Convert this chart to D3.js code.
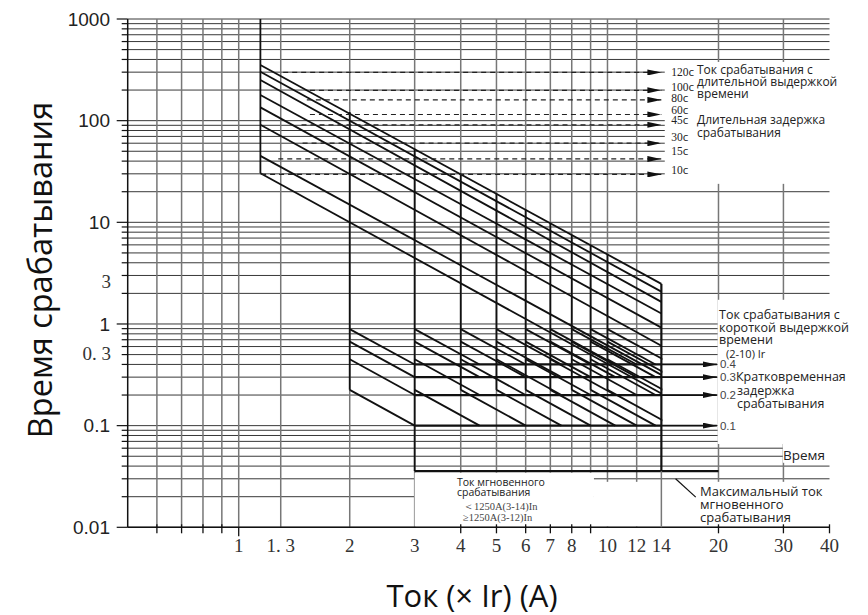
<!DOCTYPE html>
<html>
<head>
<meta charset="utf-8">
<script src="https://cdn.jsdelivr.net/npm/d3@7"></script>
<style>
body { margin: 0; background: #fff; }
svg { display: block; }
</style>
</head>
<body>
<div id="chart"></div>
<script>
// axis labels
var yMajor = [0.01, 0.1, 1, 10, 100, 1000];
var yMajorText = ["0.01", "0.1", "1", "10", "100", "1000"];
var ySerifText = ["3", "0. 3"];
var ySerifAt = [2.6, 0.52];          // where those two labels sit in the drawing
var xGrid = [0.6, 0.7, 0.8, 0.9, 1, 1.3, 2, 3, 4, 5, 6, 7, 8, 9, 10, 12, 20, 30];
var xTicks = [0.6, 0.7, 0.8, 0.9, 4, 5, 6, 7, 8, 9, 20, 30, 40];
var xLabels = [1, 1.3, 2, 3, 4, 5, 6, 7, 8, 10, 12, 14, 20, 30, 40];
var xLabelText = ["1", "1. 3", "2", "3", "4", "5", "6", "7", "8", "10", "12", "14", "20", "30", "40"];

// long time delay band (trip time at start and end current)
var longStartI = 1.145, longEndI = 14;
var longStartT = [353, 303, 251, 179, 135, 91, 45, 30.4];
var longEndT = [2.48, 2.08, 1.65, 1.27, 0.92, 0.61, 0.316, 0.207];

// long delay settings, dashed arrows
var settingText = ["120", "100", "80", "60", "45", "30", "15", "10"];
var dashT = [298, 199, 160, 115, 91, 60, 42, 29.6];
var dashStartI = [1.32, 1.56, 1.53, 1.56, 1.48, 1.49, 1.28, 1.15];
var settingLabelT = [315, 224, 172, 133, 106, 72, 51.6, 34.3];

// short time delay (pickup 2-10 Ir)
var shortPickup = [2, 3, 4, 5, 6, 7, 8, 9, 10];
var shortReach = [3, 4.5, 6, 7.5, 9, 10.5, 12, 13.5, 15];
var pickupTopT = [122, 53, 30, 19.2, 13.3, 9.8, 7.5, 5.9, 4.8];
var shortDelay = [0.4, 0.3, 0.2, 0.1];
var shortDelayText = ["0.4", "0.3", "0.2", "0.1"];
var shortStartT = [0.89, 0.67, 0.45, 0.225];

// instantaneous
var instT = 0.0357;
var instFromI = 3, instToI = 20;

var width = 868, height = 615;

var svg = d3.select("#chart")
  .append("svg")
  .attr("width", width)
  .attr("height", height)
  .style("font-family", "'Open Sans', sans-serif");

var x = d3.scaleLog().domain([0.5, 40]).range([127.7, 829.5]);
var y = d3.scaleLog().domain([0.01, 1000]).range([527.3, 19]);

var defs = svg.append("defs");
defs.append("marker")
  .attr("id", "arr")
  .attr("markerUnits", "userSpaceOnUse")
  .attr("viewBox", "0 0 14 6")
  .attr("refX", 14).attr("refY", 3)
  .attr("markerWidth", 14).attr("markerHeight", 6)
  .attr("orient", "auto")
  .append("path").attr("d", "M0,0L14,3L0,6Z").attr("fill", "#111");
defs.append("clipPath").attr("id", "clip14")
  .append("rect")
  .attr("x", x(0.5)).attr("y", y(1000))
  .attr("width", x(14) - x(0.5) + 1)
  .attr("height", y(0.01) - y(1000));

// grid
var hGrid = y.ticks();
svg.append("g").selectAll("line")
  .data(hGrid).join("line")
  .attr("x1", x(0.5)).attr("x2", x(40))
  .attr("y1", d => y(d)).attr("y2", d => y(d))
  .attr("stroke", "#222").attr("stroke-width", 0.9);

svg.append("g").selectAll("line")
  .data(xGrid).join("line")
  .attr("x1", d => x(d)).attr("x2", d => x(d))
  .attr("y1", y(1000)).attr("y2", y(0.01))
  .attr("stroke", "#777").attr("stroke-width", 1.5);

// blank areas behind the notes
var blanks = [
  {i0: 14.3, i1: 42, t0: 23.9, t1: 378},
  {i0: 19.9, i1: 42, t0: 0.066, t1: 1.73},
  {i0: 29.9, i1: 42, t0: 0.0431, t1: 0.066},
  {i0: 3.0, i1: 9.19, t0: 0.0102, t1: 0.0345},
  {i0: 9.19, i1: 42, t0: 0.0102, t1: 0.028}
];
svg.append("g").selectAll("rect")
  .data(blanks).join("rect")
  .attr("x", d => x(d.i0)).attr("y", d => y(d.t1))
  .attr("width", d => x(d.i1) - x(d.i0))
  .attr("height", d => y(d.t0) - y(d.t1))
  .attr("fill", "#fff");

// axes
var axisG = svg.append("g").attr("stroke", "#111");
axisG.append("line")
  .attr("x1", x(0.5)).attr("x2", x(0.5))
  .attr("y1", y(1000)).attr("y2", y(0.01)).attr("stroke-width", 1.5);
axisG.append("line")
  .attr("x1", x(0.5)).attr("x2", x(40))
  .attr("y1", y(0.01)).attr("y2", y(0.01)).attr("stroke-width", 1.5);
axisG.selectAll(".ym").data(hGrid).join("line")
  .attr("x1", d => x(0.5) - (yMajor.indexOf(d) >= 0 ? 11 : 6)).attr("x2", x(0.5))
  .attr("y1", d => y(d)).attr("y2", d => y(d)).attr("stroke-width", 1.2);
axisG.selectAll(".xt").data(xTicks).join("line")
  .attr("x1", d => x(d)).attr("x2", d => x(d))
  .attr("y1", y(0.01) - 3).attr("y2", y(0.01) + 6).attr("stroke-width", 1.3);
axisG.append("line")
  .attr("x1", x(1)).attr("x2", x(1))
  .attr("y1", y(0.01)).attr("y2", y(0.01) + 9).attr("stroke-width", 1.3);

svg.append("g").selectAll("text")
  .data(yMajor).join("text")
  .attr("x", 110).attr("y", d => y(d)).attr("dy", "0.35em")
  .attr("text-anchor", "end")
  .style("font-family", "'Liberation Sans', Arial, sans-serif")
  .style("font-size", "19px").attr("fill", "#222")
  .text((d, i) => yMajorText[i]);

svg.append("g").selectAll("text")
  .data(ySerifAt).join("text")
  .attr("x", 111).attr("y", d => y(d)).attr("dy", "0.35em")
  .attr("text-anchor", "end")
  .style("font-family", "'Liberation Serif', serif")
  .style("font-size", "19px").attr("fill", "#333")
  .text((d, i) => ySerifText[i]);

svg.append("g").selectAll("text")
  .data(xLabels).join("text")
  .attr("x", d => x(d)).attr("y", 552)
  .attr("text-anchor", "middle")
  .style("font-family", "'Liberation Serif', serif")
  .style("font-size", "19px").attr("fill", "#333")
  .text((d, i) => xLabelText[i]);

// curves
var curves = svg.append("g").attr("stroke", "#111").attr("fill", "none").attr("stroke-width", 1.8);

// long delay
curves.selectAll(".long").data(longStartT).join("line")
  .attr("x1", x(longStartI)).attr("y1", d => y(d))
  .attr("x2", x(longEndI)).attr("y2", (d, i) => y(longEndT[i]));
curves.append("line")
  .attr("x1", x(longStartI)).attr("x2", x(longStartI))
  .attr("y1", y(1000)).attr("y2", y(longStartT[longStartT.length - 1]));

// short delay pickups
curves.selectAll(".pick").data(shortPickup).join("line")
  .attr("x1", d => x(d)).attr("x2", d => x(d))
  .attr("y1", (d, i) => y(pickupTopT[i]))
  .attr("y2", d => y(d === instFromI ? instT : shortStartT[shortStartT.length - 1]));

var shortSegs = [];
shortPickup.forEach(function(k, i) {
  shortDelay.forEach(function(td, j) {
    shortSegs.push({i0: k, t0: shortStartT[j], i1: shortReach[i], t1: td});
  });
});
curves.append("g").attr("clip-path", "url(#clip14)")
  .selectAll("line").data(shortSegs).join("line")
  .attr("x1", d => x(d.i0)).attr("y1", d => y(d.t0))
  .attr("x2", d => x(d.i1)).attr("y2", d => y(d.t1));

curves.selectAll(".sd").data(shortDelay).join("line")
  .attr("x1", x(shortReach[0])).attr("x2", x(longEndI))
  .attr("y1", d => y(d)).attr("y2", d => y(d))
  .attr("stroke-width", 2.2);

// right edge at 14 Ir and instantaneous step
curves.append("line")
  .attr("x1", x(longEndI)).attr("x2", x(longEndI))
  .attr("y1", y(longEndT[0])).attr("y2", y(instT)).attr("stroke-width", 2.2);
curves.append("line")
  .attr("x1", x(instFromI)).attr("x2", x(instToI))
  .attr("y1", y(instT)).attr("y2", y(instT)).attr("stroke-width", 2.4);
svg.append("line")
  .attr("x1", x(longEndI)).attr("x2", x(longEndI))
  .attr("y1", y(instT)).attr("y2", y(0.01))
  .attr("stroke", "#777").attr("stroke-width", 1.5);

// short delay arrows
curves.selectAll(".sda").data(shortDelay).join("line")
  .attr("x1", x(longEndI)).attr("x2", x(19.8))
  .attr("y1", d => y(d)).attr("y2", d => y(d))
  .attr("stroke-width", 1.8)
  .attr("marker-end", "url(#arr)");

// dashed setting lines
svg.append("g").selectAll("line")
  .data(dashT).join("line")
  .attr("x1", (d, i) => x(dashStartI[i])).attr("x2", x(longEndI))
  .attr("y1", d => y(d)).attr("y2", d => y(d))
  .attr("stroke", "#222").attr("stroke-width", 1.2)
  .attr("stroke-dasharray", "5,4")
  .attr("marker-end", "url(#arr)");

// leader for instantaneous maximum
svg.append("line")
  .attr("x1", x(15.3)).attr("y1", y(0.03))
  .attr("x2", x(17.35)).attr("y2", y(0.0198))
  .attr("stroke", "#111").attr("stroke-width", 1.2);

// notes
function note(lines, px, py, step, size) {
  var t = svg.append("text")
    .style("font-size", size + "px").attr("fill", "#222");
  lines.forEach(function(s, i) {
    t.append("tspan").attr("x", px).attr("y", py + i * step).attr("dy", "0.35em").text(s);
  });
  return t;
}

var setLab = svg.append("g").selectAll("text")
  .data(settingLabelT).join("text")
  .attr("x", x(longEndI) + 10).attr("y", d => y(d)).attr("dy", "0.35em")
  .attr("fill", "#222");
setLab.append("tspan")
  .style("font-family", "'Liberation Serif', serif").style("font-size", "11.5px")
  .text((d, i) => settingText[i]);
setLab.append("tspan").style("font-size", "11.5px").text("с");

note(["Ток срабатывания с", "длительной выдержкой", "времени"], 697, 70, 12, 12);
note(["Длительная задержка", "срабатывания"], 697, 119.5, 13.5, 12);

note(["Ток срабатывания с", "короткой выдержкой", "времени"], 719, 315, 12.5, 12.5);
note(["(2-10) Ir"], 726, 354, 0, 11);
note(["Кратковременная", "задержка", "срабатывания"], 736, 376.5, 13.8, 12.5)
  .selectAll("tspan").filter((d, i) => i > 0).attr("x", 737);

svg.append("g").selectAll("text")
  .data(shortDelay).join("text")
  .attr("x", x(19.8) + 3).attr("y", d => y(d)).attr("dy", "0.35em")
  .style("font-family", "'Liberation Sans', Arial, sans-serif")
  .style("font-size", "11.5px").attr("fill", "#444")
  .text((d, i) => shortDelayText[i]);

note(["Время"], 783, 455, 0, 13.5);
note(["Максимальный ток", "мгновенного", "срабатывания"], 700, 491.5, 12.8, 13);

note(["Ток мгновенного", "срабатывания"], 457, 482.7, 10, 10.5);
note(["＜1250A(3-14)In", "≥1250A(3-12)In"], 463, 506, 11.3, 10.5)
  .style("font-family", "'Liberation Serif', serif").attr("fill", "#444");

// axis titles
svg.append("text")
  .attr("transform", "translate(52,270) rotate(-90)")
  .attr("text-anchor", "middle")
  .style("font-size", "32.5px").attr("fill", "#111")
  .text("Время срабатывания");

svg.append("text")
  .attr("x", 472).attr("y", 607)
  .attr("text-anchor", "middle")
  .style("font-size", "31px").attr("fill", "#111")
  .text("Ток (× Ir) (A)");
</script>
</body>
</html>
